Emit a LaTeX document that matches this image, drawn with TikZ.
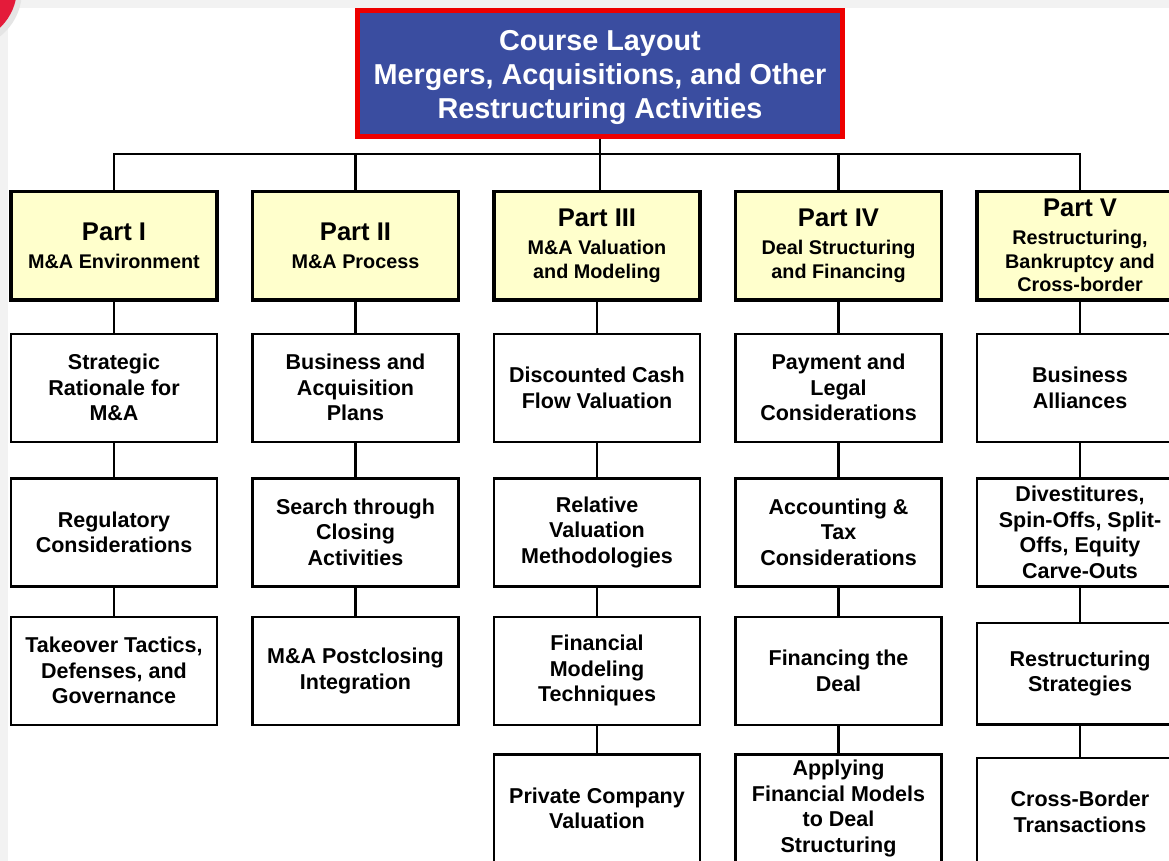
\documentclass[tikz,border=0pt]{standalone}
\usepackage{fontspec}
\setmainfont{Liberation Sans}
\usepackage{tikz}
\usetikzlibrary{positioning}
\usepackage{xcolor}

\definecolor{titleblue}{RGB}{58,77,160}
\definecolor{titlered}{RGB}{237,0,0}
\definecolor{partyellow}{RGB}{255,255,204}
\definecolor{framegray}{RGB}{242,242,242}
\definecolor{cornerred}{RGB}{228,27,58}

\newcommand{\PartLabel}[1]{{\fontsize{25.6}{28}\selectfont Part #1}}

\begin{document}
\begin{tikzpicture}[node distance=31pt and 32pt,
  head/.style={draw=titlered, fill=titleblue, line width=5pt, text=white,
    font=\bfseries\fontsize{28.8}{34}\selectfont, align=center,
    minimum width=485pt, minimum height=126pt},
  partbox/.style={draw, fill=partyellow, line width=3.5pt,
    font=\bfseries\fontsize{19.8}{23.5}\selectfont, align=center,
    minimum width=206pt, minimum height=108pt, inner sep=3pt},
  topic/.style={draw, fill=white, line width=2.5pt,
    font=\bfseries\fontsize{21.5}{25.5}\selectfont, align=center,
    minimum width=206pt, minimum height=108pt, inner sep=3pt},
  link/.style={line width=2.5pt}]
\useasboundingbox (0,0) rectangle (1169pt,-861pt);
\clip (0,0) rectangle (1169pt,-861pt);
\fill[framegray] (0,0) rectangle (1169pt,-861pt);
\fill[white] (8pt,-8pt) rectangle (1169pt,-861pt);
\fill[black!10] (-36pt,9pt) circle (58pt);
\fill[cornerred] (-38pt,12pt) circle (55pt);

\node (T) [head] at (600pt,-73.5pt) {\rule{0pt}{28pt}Course Layout\\Mergers, Acquisitions, and Other\\Restructuring Activities};

% the five parts
\node (P3) [partbox, below=51pt of T, xshift=-3pt] {\PartLabel{III}\\[4.5pt]M\&A Valuation\\and Modeling};
\node (P2) [partbox, left=of P3] {\PartLabel{II}\\[4.5pt]M\&A Process};
\node (P1) [partbox, left=of P2] {\PartLabel{I}\\[4.5pt]M\&A Environment};
\node (P4) [partbox, right=of P3] {\PartLabel{IV}\\[4.5pt]Deal Structuring\\and Financing};
\node (P5) [partbox, right=of P4] {\PartLabel{V}\\[4.5pt]Restructuring,\\Bankruptcy and\\Cross-border};

\node (SR) [topic, below=of P1] {Strategic\\Rationale for\\M\&A};
\node (RC) [topic, below=34pt of SR] {Regulatory\\Considerations};
\node (TT) [topic, below=28pt of RC] {Takeover Tactics,\\Defenses, and\\Governance};

\node (BP) [topic, below=of P2] {Business and\\Acquisition\\Plans};
\node (SC) [topic, below=34pt of BP] {Search through\\Closing\\Activities};
\node (PI) [topic, below=28pt of SC] {M\&A Postclosing\\Integration};

\node (DCF) [topic, below=of P3] {Discounted Cash\\Flow Valuation};
\node (RV) [topic, below=34pt of DCF] {Relative\\Valuation\\Methodologies};
\node (FM) [topic, below=28pt of RV] {Financial\\Modeling\\Techniques};
\node (PCV) [topic, below=27pt of FM] {Private Company\\Valuation};

\node (PL) [topic, below=of P4] {Payment and\\Legal\\Considerations};
\node (AT) [topic, below=34pt of PL] {Accounting \&\\Tax\\Considerations};
\node (FD) [topic, below=28pt of AT] {Financing the\\Deal};
\node (AFM) [topic, below=27pt of FD] {Applying\\Financial Models\\to Deal\\Structuring};

\node (BA) [topic, below=of P5] {Business\\Alliances};
\node (DS) [topic, below=34pt of BA] {Divestitures,\\Spin-Offs, Split-\\Offs, Equity\\Carve-Outs};
\node (RS) [topic, below=34pt of DS, minimum height=101.5pt] {Restructuring\\Strategies};
\node (CBT) [topic, below=31pt of RS] {Cross-Border\\Transactions};

% tree lines
\draw[link] (T.south) -- ++(0,-15pt) coordinate (hub);
\draw[link] (P1.north) |- (hub) -| (P5.north);
\draw[link] (hub) -- (hub |- P3.north);
\draw[link] (P2.north) -- (P2.north |- hub);
\draw[link] (P4.north) -- (P4.north |- hub);

\path[link] (P1) edge (SR) (SR) edge (RC) (RC) edge (TT);
\path[link] (P2) edge (BP) (BP) edge (SC) (SC) edge (PI);
\path[link] (P3) edge (DCF) (DCF) edge (RV) (RV) edge (FM) (FM) edge (PCV);
\path[link] (P4) edge (PL) (PL) edge (AT) (AT) edge (FD) (FD) edge (AFM);
\path[link] (P5) edge (BA) (BA) edge (DS) (DS) edge (RS) (RS) edge (CBT);
\end{tikzpicture}
\end{document}
